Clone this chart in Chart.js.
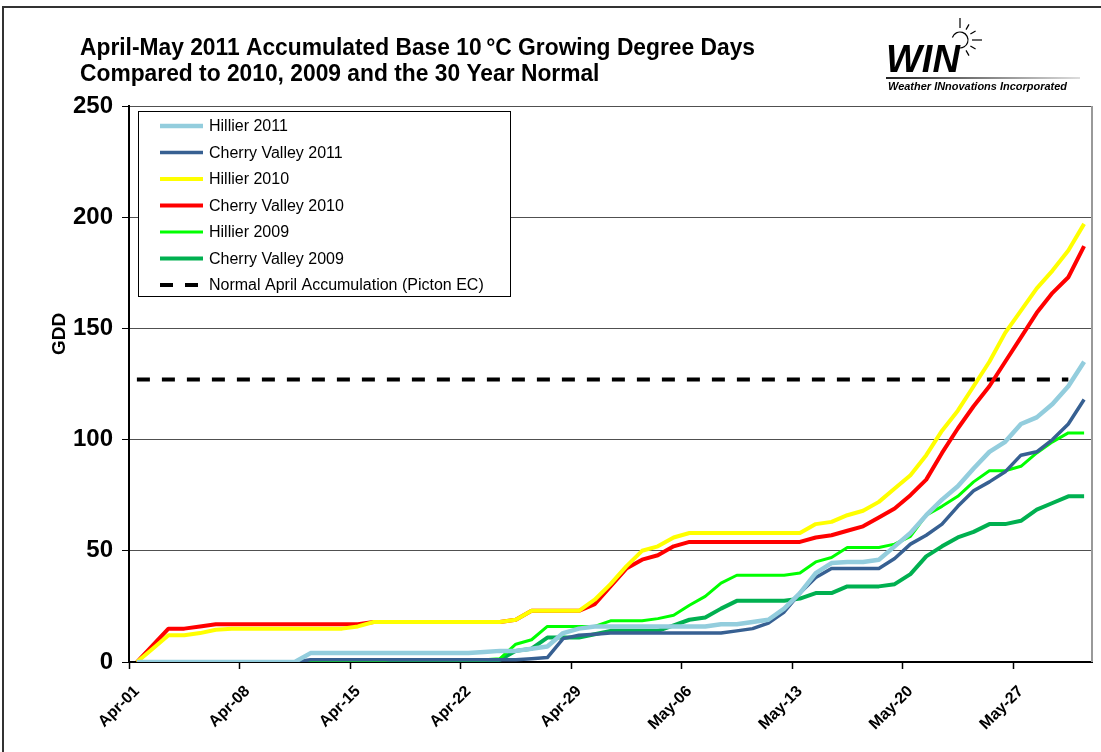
<!DOCTYPE html>
<html><head><meta charset="utf-8">
<script src="https://cdn.jsdelivr.net/npm/chart.js@4.4.1/dist/chart.umd.min.js"></script>
<style>html,body{margin:0;padding:0;background:#fff;}canvas{display:block;}</style>
</head><body>
<canvas id="c" width="1101" height="752"></canvas>
<script>
const dates = ["Apr-01","Apr-02","Apr-03","Apr-04","Apr-05","Apr-06","Apr-07","Apr-08","Apr-09","Apr-10",
"Apr-11","Apr-12","Apr-13","Apr-14","Apr-15","Apr-16","Apr-17","Apr-18","Apr-19","Apr-20",
"Apr-21","Apr-22","Apr-23","Apr-24","Apr-25","Apr-26","Apr-27","Apr-28","Apr-29","Apr-30",
"May-01","May-02","May-03","May-04","May-05","May-06","May-07","May-08","May-09","May-10",
"May-11","May-12","May-13","May-14","May-15","May-16","May-17","May-18","May-19","May-20",
"May-21","May-22","May-23","May-24","May-25","May-26","May-27","May-28","May-29","May-30","May-31"];

const hillier2011 = [0,0,0,0,0,0,0,0,0,0,0,4,4,4,4,4,4,4,4,4,4,4,4.5,5,5,6,7,13,15,16,16,16,16,16,16,16,16,17,17,18,19,24,31,40,44.5,45,45,46,52,58,66,73,79,87,94.5,99,107,110,116,124,135];
const cherryValley2011 = [0,0,0,0,0,0,0,0,0,0,0,1,1,1,1,1,1,1,1,1,1,1,1,1,1,1.5,2,10.5,12,12.5,13,13,13,13,13,13,13,13,14,15,17.5,22.5,31,38,42,42,42,42,46.5,53,57,62,70,77,81,85.5,93,94.5,100,107,118];
const hillier2010 = [0,6,12,12,13,14.5,15,15,15,15,15,15,15,15,16,18,18,18,18,18,18,18,18,18,19,23,23,23,23,28,35,43,50,52,56,58,58,58,58,58,58,58,58,62,63,66,68,72,78,84,93,104,113,124,135,148,158,168,176,185,197];
const cherryValley2010 = [0,7.5,15,15,16,17,17,17,17,17,17,17,17,17,17,18,18,18,18,18,18,18,18,18,19,23,23,23,23,26,34,42,46,48,52,54,54,54,54,54,54,54,54,56,57,59,61,65,69,75,82,94,105,115,124,135,146,157,166,173,187];
const hillier2009 = [0,0,0,0,0,0,0,0,0,0,0,0,0,0,0,0,1,1,1,1,1,1,1,1.5,8,10,16,16,16,16,18.5,18.5,18.5,19.5,21,25.5,29.5,35.5,39,39,39,39,40,45,47,51.5,51.5,51.5,53,56.5,66,70,74.5,81,86,86,88,94,99,103,103];
const cherryValley2009 = [0,0,0,0,0,0,0,0,0,0,0,0,0,0,0,0,0,0,0,0,0,0,0,1,5,6,11,11,11,12.5,14,14,14,14,16.5,19,20,24,27.5,27.5,27.5,27.5,28.5,31,31,34,34,34,35,39.5,47.5,52,56,58.5,62,62,63.5,68.5,71.5,74.5,74.5];
const normalApril = [127,127,127,127,127,127,127,127,127,127,127,127,127,127,127,127,127,127,127,127,127,127,127,127,127,127,127,127,127,127,127,127,127,127,127,127,127,127,127,127,127,127,127,127,127,127,127,127,127,127,127,127,127,127,127,127,127,127,127,127];
const yTicks = [0,50,100,150,200,250];
const titleLines = ["April-May 2011 Accumulated Base 10\u2009\u00B0C Growing Degree Days","Compared to 2010, 2009 and the 30 Year Normal"];
const yTitle = "GDD";
const logoText = "WIN";
const logoTag = "Weather INnovations Incorporated";

const FONT = "'Liberation Sans', Arial, sans-serif";

const series = [
  {label:"Hillier 2011", data:hillier2011, color:"#93CDDD", width:4.5},
  {label:"Cherry Valley 2011", data:cherryValley2011, color:"#376092", width:3.5},
  {label:"Hillier 2010", data:hillier2010, color:"#FFFF00", width:4},
  {label:"Cherry Valley 2010", data:cherryValley2010, color:"#FF0000", width:4},
  {label:"Hillier 2009", data:hillier2009, color:"#00FF00", width:3},
  {label:"Cherry Valley 2009", data:cherryValley2009, color:"#00B050", width:4},
  {label:"Normal April Accumulation (Picton EC)", data:normalApril, color:"#000000", width:4, dash:[13,12]}
];

const decor = {
  id:'decor',
  afterDatasetsDraw(chart){
    const c = chart.ctx;
    c.save();
    c.fillStyle = '#fff';
    c.fillRect(138,111,372,185);
    c.strokeStyle = '#000'; c.lineWidth = 1;
    c.strokeRect(138.5,111.5,372,185);
    c.font = "16px " + FONT; c.textBaseline = 'middle'; c.fillStyle = '#000';
    chart.data.datasets.forEach((ds,i)=>{
      const y = 126 + i*26.5;
      c.beginPath();
      c.strokeStyle = ds.borderColor; c.lineWidth = ds.borderWidth;
      c.setLineDash(ds.borderDash || []);
      c.lineCap = 'butt';
      c.moveTo(160,y); c.lineTo(203,y); c.stroke();
      c.setLineDash([]);
      c.fillText(ds.label, 209, y+1);
    });
    c.restore();
  },
  afterDraw(chart){
    const c = chart.ctx;
    c.save();
    c.strokeStyle = '#333'; c.lineWidth = 2;
    c.strokeRect(3,7,1110,760);
    c.fillStyle = '#000';
    c.font = "bold 23px " + FONT;
    c.textBaseline = 'alphabetic';
    const w1 = c.measureText(titleLines[0]).width;
    const sx = 675 / w1;
    titleLines.forEach((t,i)=>{
      c.save(); c.translate(80, 55 + i*26); c.scale(sx,1); c.fillText(t,0,0); c.restore();
    });
    c.save(); c.translate(60, 334); c.rotate(-Math.PI/2);
    c.font = "bold 19px " + FONT; c.textAlign='center'; c.textBaseline='middle'; c.fillText(yTitle,0,0); c.restore();
    c.font = "italic bold 38px " + FONT;
    c.fillText(logoText,886,72);
    const g = c.createLinearGradient(886,0,1080,0);
    g.addColorStop(0,'#222'); g.addColorStop(1,'#ddd');
    c.fillStyle = g; c.fillRect(886,77,194,2);
    c.fillStyle = '#000';
    c.font = "italic bold 10px " + FONT;
    const wt = c.measureText(logoTag).width;
    c.save(); c.translate(888,90); c.scale(179/wt,1); c.fillText(logoTag,0,0); c.restore();
    c.strokeStyle = '#000'; c.lineWidth = 1.2;
    c.beginPath(); c.arc(960,40,8,-Math.PI*0.9,Math.PI*0.55); c.stroke();
    [-90,-60,-30,0,30,60].forEach(a=>{
      const r = a*Math.PI/180, L = (a===-90||a===0)?22:18;
      c.beginPath();
      c.moveTo(960+Math.cos(r)*12, 40+Math.sin(r)*12);
      c.lineTo(960+Math.cos(r)*L, 40+Math.sin(r)*L);
      c.stroke();
    });
    c.restore();
  }
};

new Chart(document.getElementById('c'), {
  type:'line',
  data:{
    labels: dates,
    datasets: series.map(s=>({
      label:s.label, data:s.data, borderColor:s.color, backgroundColor:s.color,
      borderWidth:s.width, borderDash:s.dash||[], pointRadius:0, tension:0, fill:false,
      borderJoinStyle:'round', borderCapStyle:'butt'
    }))
  },
  options:{
    responsive:false, animation:false, devicePixelRatio:1,
    layout:{padding:{left:0,right:9,top:106,bottom:0}},
    plugins:{legend:{display:false}, title:{display:false}, tooltip:{enabled:false}},
    scales:{
      x:{
        type:'category', offset:true,
        grid:{offset:true, drawOnChartArea:false, drawTicks:true, tickLength:7, tickWidth:1.5,
          tickColor:(ctx)=> (ctx.index!==undefined && ctx.index%7===0) ? '#000' : 'rgba(0,0,0,0)',
          color:(ctx)=> (ctx.index!==undefined && ctx.index%7===0) ? '#000' : 'rgba(0,0,0,0)'},
        border:{display:true, color:'#000', width:2},
        ticks:{autoSkip:false, minRotation:45, maxRotation:45, color:'#000', padding:13,
          font:{family:FONT, size:16, weight:'bold'},
          callback:(v,i)=> i%7===0 ? dates[i] : ''},
        afterFit:(s)=>{ s.height = 752-662; s.paddingRight = 0; s.paddingLeft = 0; }
      },
      y:{
        min:0, max:250,
        afterBuildTicks:(s)=>{ s.ticks = yTicks.map(v=>({value:v})); },
        grid:{color:'#505050', lineWidth:1, tickLength:7, tickColor:'#000', drawTicks:true},
        border:{display:true, color:'#000', width:2},
        ticks:{color:'#000', padding:9, font:{family:FONT, size:24, weight:'bold'}},
        afterFit:(s)=>{ s.width = 129; }
      }
    }
  },
  plugins:[decor, {
    id:'rightBorder',
    beforeDatasetsDraw(chart){
      const a = chart.chartArea, c = chart.ctx;
      c.save(); c.strokeStyle='#999'; c.lineWidth=2;
      c.beginPath(); c.moveTo(a.right, a.top); c.lineTo(a.right, a.bottom); c.stroke();
      c.restore();
    }
  }]
});
</script>
</body></html>
